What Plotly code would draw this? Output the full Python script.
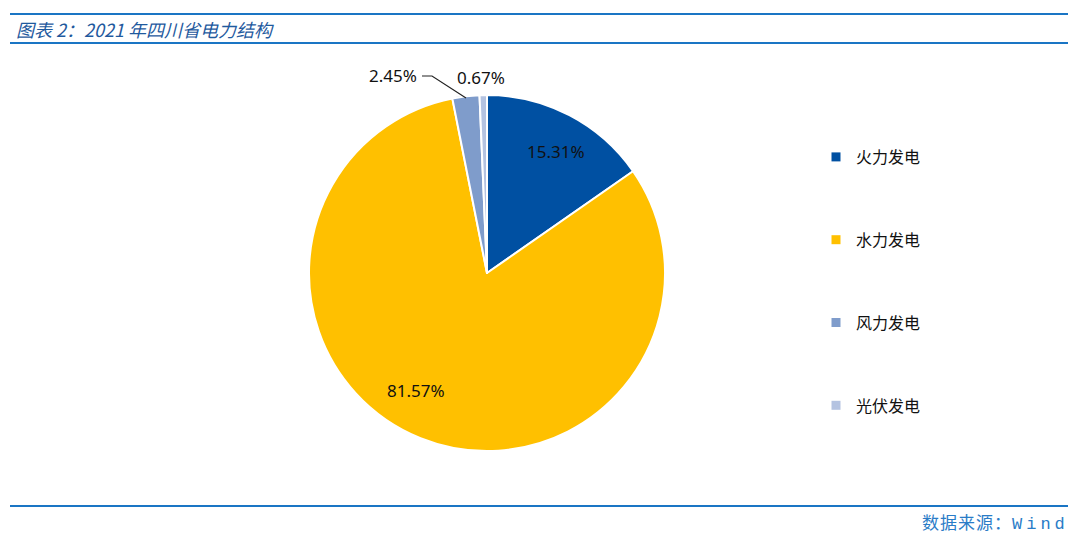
import plotly.graph_objects as go

W, H = 1080, 537

# ------------------------------------------------------------------
# Data
# ------------------------------------------------------------------
sources = ["火力发电", "水力发电", "风力发电", "光伏发电"]
shares = [15.31, 81.57, 2.45, 0.67]
colors = ["#0050A2", "#FFC000", "#7F9CCB", "#B4C3E1"]

title_text = "图表 2：2021 年四川省电力结构"
source_cn = "数据来源："
source_en = "Wind"

LINE_BLUE = "#1A75C4"
TEXT_BLUE = "#1F5A9E"


def px_x(x):
    return x / W


def px_y(y):
    return 1 - y / H


# pie geometry (pixels)
cx, cy, r = 487, 273, 178

fig = go.Figure()

fig.add_trace(
    go.Pie(
        labels=sources,
        values=shares,
        sort=False,
        direction="clockwise",
        rotation=0,
        marker=dict(colors=colors, line=dict(color="white", width=2)),
        textinfo="none",
        hoverinfo="label+percent",
        showlegend=False,
        domain=dict(
            x=[px_x(cx - r), px_x(cx + r)],
            y=[px_y(cy + r), px_y(cy - r)],
        ),
    )
)

# legend via dummy traces so the entries can be spaced out
for name, col in zip(sources, colors):
    fig.add_trace(
        go.Scatter(
            x=[None],
            y=[None],
            mode="markers",
            name=name,
            legendgroup=name,
            marker=dict(symbol="square", size=9, color=col),
        )
    )

# data labels (positions)
label_pos = [(556, 152), (416, 390), (393, 75), (481, 77)]
annotations = []
for val, (lx, ly) in zip(shares, label_pos):
    annotations.append(
        dict(
            x=px_x(lx), y=px_y(ly), xref="paper", yref="paper",
            text=f"{val:.2f}%", showarrow=False,
            font=dict(family="Noto Sans, Open Sans, sans-serif", size=17, color="#111111"),
            xanchor="center", yanchor="middle",
        )
    )

# title & footer
annotations.append(
    dict(
        x=px_x(14), y=px_y(29), xref="paper", yref="paper",
        text=f"<i>{title_text}</i>", showarrow=False,
        font=dict(family="Noto Sans CJK SC, sans-serif", size=18, color=TEXT_BLUE),
        xanchor="left", yanchor="middle",
    )
)
annotations.append(
    dict(
        x=px_x(1071), y=px_y(521), xref="paper", yref="paper",
        text=(
            f"<span style='letter-spacing:1px'>{source_cn}</span>"
            f"<span style='font-family:Liberation Mono, DejaVu Sans Mono, monospace;"
            f"letter-spacing:4px'>{source_en}</span>"
        ),
        showarrow=False,
        font=dict(family="Noto Sans CJK SC, sans-serif", size=17, color="#2A7CC7"),
        xanchor="right", yanchor="middle",
    )
)

shapes = []
for yy in (14, 43, 506):
    shapes.append(
        dict(
            type="line", xref="paper", yref="paper",
            x0=px_x(10), x1=px_x(1068), y0=px_y(yy), y1=px_y(yy),
            line=dict(color=LINE_BLUE, width=2),
        )
    )
# leader line for the small wind slice label
shapes.append(
    dict(
        type="path", xref="paper", yref="paper",
        path=f"M {px_x(422)},{px_y(76)} L {px_x(432)},{px_y(76)} L {px_x(466)},{px_y(98)}",
        line=dict(color="#222222", width=1.2),
    )
)

fig.update_layout(
    width=W,
    height=H,
    margin=dict(l=0, r=0, t=0, b=0),
    paper_bgcolor="white",
    plot_bgcolor="white",
    xaxis=dict(visible=False, range=[0, 1]),
    yaxis=dict(visible=False, range=[0, 1]),
    legend=dict(
        x=px_x(816), y=px_y(140), xanchor="left", yanchor="top",
        font=dict(family="Noto Sans CJK SC, sans-serif", size=16, color="#111111"),
        tracegroupgap=59,
        itemwidth=30,
        bgcolor="rgba(0,0,0,0)",
    ),
    annotations=annotations,
    shapes=shapes,
)

fig.write_html(
    "out.html",
    config={"displayModeBar": False},
    post_script="document.body.style.margin='0';",
)
